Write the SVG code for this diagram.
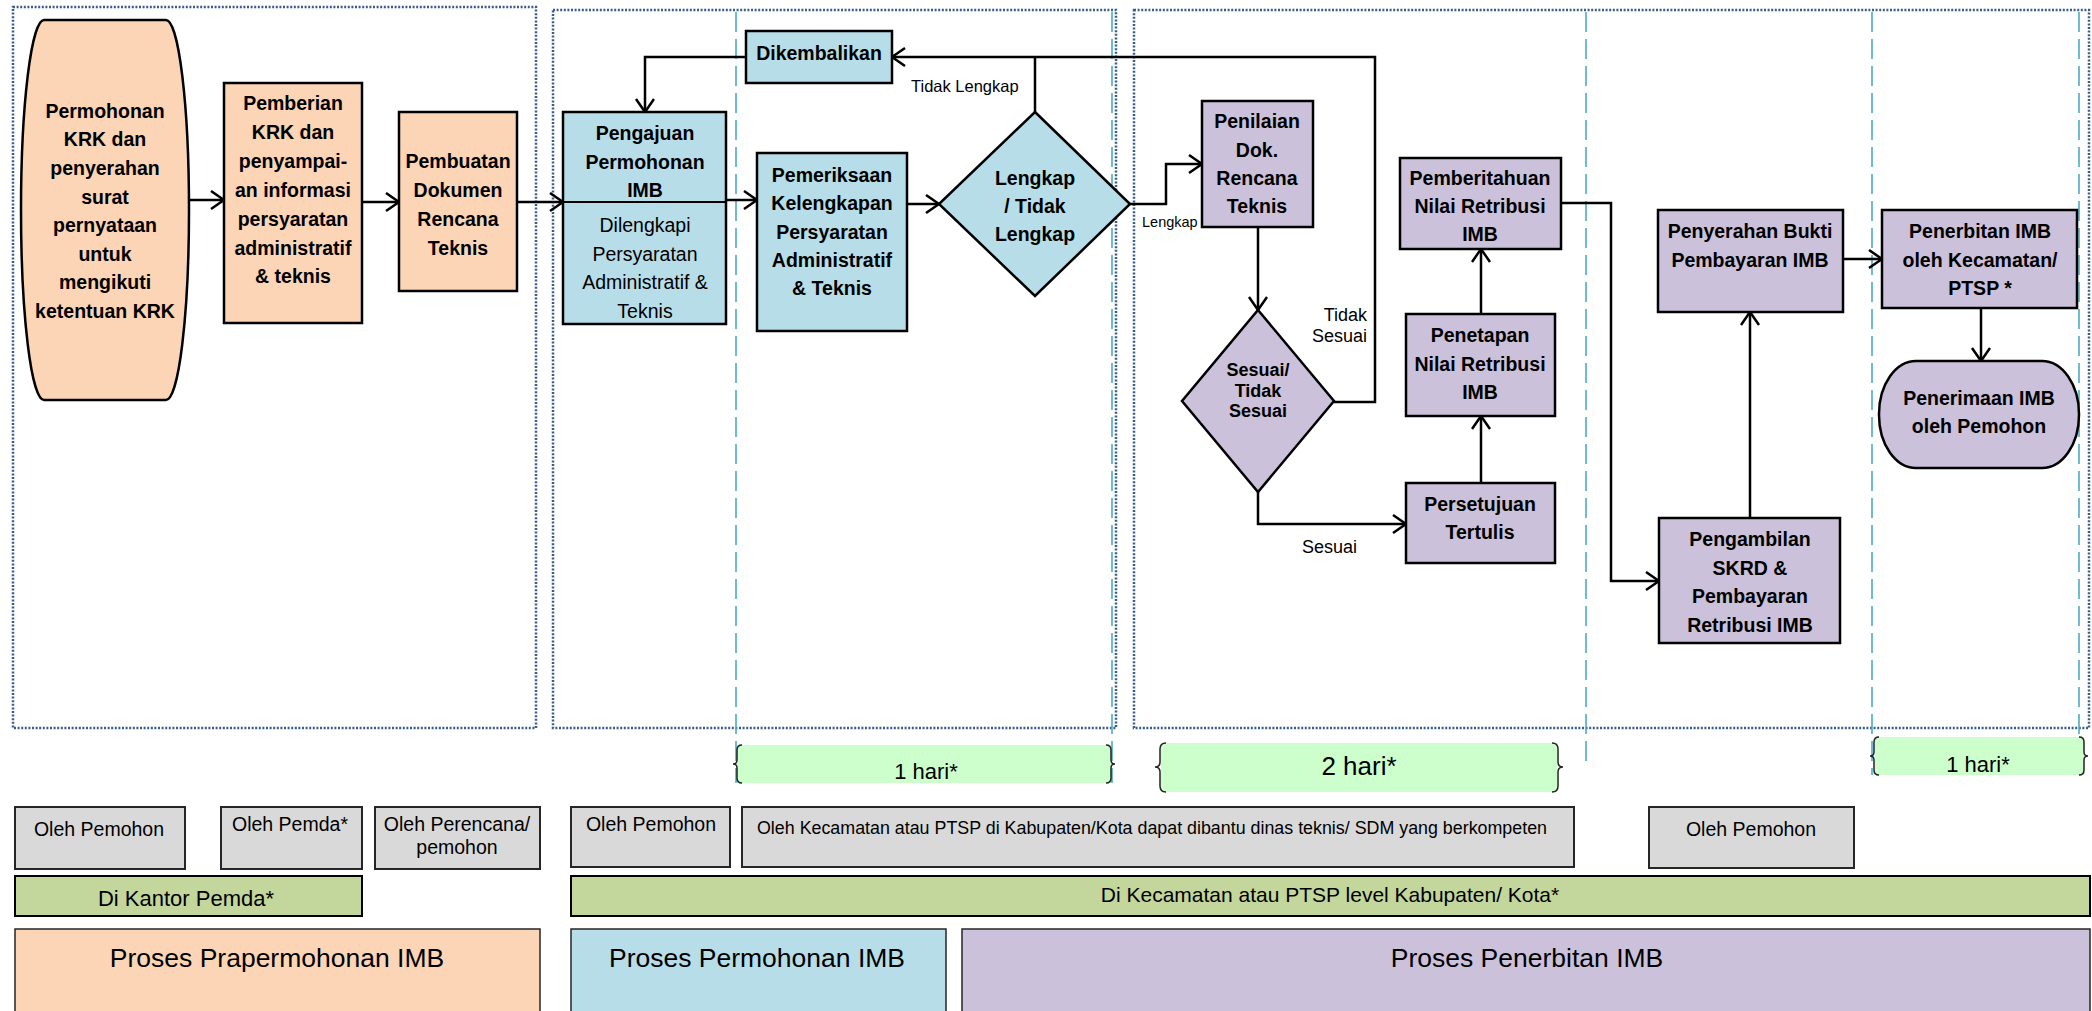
<svg xmlns="http://www.w3.org/2000/svg" width="2092" height="1011" viewBox="0 0 2092 1011">
<style>
text{font-family:"Liberation Sans",Arial,sans-serif;fill:#000}
.b{font-weight:bold;font-size:19.5px;text-anchor:middle}
.r{font-size:19.5px;text-anchor:middle}
.lbl{font-size:16.5px}
.peach{fill:#FBD5B5;stroke:#000;stroke-width:2.5}
.blue{fill:#B7DDE8;stroke:#000;stroke-width:2.5}
.lav{fill:#CCC1DA;stroke:#000;stroke-width:2.5}
.gray{fill:#D9D9D9;stroke:#262626;stroke-width:2}
.bar{fill:#C3D69B;stroke:#000;stroke-width:2}
.big{stroke:#262626;stroke-width:1.5}
.dot{fill:none;stroke:#385D8A;stroke-width:2.5;stroke-dasharray:2 1.6}
.dash{fill:none;stroke:#4BACC6;stroke-width:1.6;stroke-dasharray:20 7}
.hari{fill:#CCFFCC}
.brace{fill:none;stroke:#222;stroke-width:1.5}
.c{fill:none;stroke:#000;stroke-width:2.5}
.a{marker-end:url(#ar)}
</style>
<defs>
<marker id="ar" markerUnits="userSpaceOnUse" markerWidth="18" markerHeight="22" refX="14" refY="10" orient="auto">
<path d="M1,1 L14,10 L1,19" fill="none" stroke="#000" stroke-width="2.5"/>
</marker>
</defs>

<g id="frames">
<rect class="dot" x="13" y="7" width="523" height="721"/>
<rect class="dot" x="553" y="10" width="563" height="718"/>
<rect class="dot" x="1134" y="10" width="955" height="718"/>
<line class="dash" x1="736" y1="12" x2="736" y2="783"/>
<line class="dash" x1="1112" y1="12" x2="1112" y2="783"/>
<line class="dash" x1="1586" y1="12" x2="1586" y2="765"/>
<line class="dash" x1="1872" y1="12" x2="1872" y2="775"/>
<line class="dash" x1="2079" y1="12" x2="2079" y2="775"/>
</g>

<g id="durations">
<rect class="hari" x="737" y="745" width="374" height="38"/>
<path class="brace" d="M742,745 Q737,745 737,750 V760 Q737,764 733,764 Q737,764 737,768 V778 Q737,783 742,783"/>
<path class="brace" d="M1106,745 Q1111,745 1111,750 V760 Q1111,764 1115,764 Q1111,764 1111,768 V778 Q1111,783 1106,783"/>
<text x="926" y="779" style="font-size:22px;text-anchor:middle">1 hari*</text>
<rect class="hari" x="1161" y="743" width="396" height="49"/>
<path class="brace" d="M1166,743 Q1160,743 1160,749 V762 Q1160,767 1155,767 Q1160,767 1160,772 V786 Q1160,792 1166,792"/>
<path class="brace" d="M1552,743 Q1558,743 1558,749 V762 Q1558,767 1563,767 Q1558,767 1558,772 V786 Q1558,792 1552,792"/>
<text x="1359" y="775" style="font-size:26px;text-anchor:middle">2 hari*</text>
<rect class="hari" x="1875" y="737" width="209" height="38"/>
<path class="brace" d="M1879,737 Q1874,737 1874,742 V752 Q1874,756 1870,756 Q1874,756 1874,760 V770 Q1874,775 1879,775"/>
<path class="brace" d="M2079,737 Q2084,737 2084,742 V752 Q2084,756 2088,756 Q2084,756 2084,760 V770 Q2084,775 2079,775"/>
<text x="1978" y="772" style="font-size:22px;text-anchor:middle">1 hari*</text>
</g>

<g id="connectors">
<line class="c a" x1="189" y1="200" x2="224" y2="200"/>
<line class="c a" x1="362" y1="202" x2="399" y2="202"/>
<line class="c a" x1="517" y1="202" x2="563" y2="202"/>
<line class="c a" x1="726" y1="200" x2="757" y2="200"/>
<line class="c a" x1="907" y1="204" x2="939" y2="204"/>
<line class="c" x1="1035" y1="112" x2="1035" y2="57"/>
<path class="c a" d="M1334,402 H1375 V57 H892"/>
<path class="c a" d="M746,57 H645 V112"/>
<path class="c a" d="M1130,204 H1166 V164 H1202"/>
<line class="c a" x1="1258" y1="227" x2="1258" y2="310"/>
<path class="c a" d="M1258,492 V524 H1406"/>
<line class="c a" x1="1481" y1="483" x2="1481" y2="416"/>
<line class="c a" x1="1481" y1="314" x2="1481" y2="249"/>
<path class="c a" d="M1561,203 H1611 V581 H1659"/>
<line class="c a" x1="1750" y1="518" x2="1750" y2="312"/>
<line class="c a" x1="1843" y1="259" x2="1882" y2="259"/>
<line class="c a" x1="1981" y1="308" x2="1981" y2="361"/>
<text class="lbl" x="911" y="92">Tidak Lengkap</text>
<text x="1142" y="227" style="font-size:14.5px">Lengkap</text>
<text x="1367" y="321" style="font-size:18px;text-anchor:end">Tidak</text>
<text x="1367" y="342" style="font-size:18px;text-anchor:end">Sesuai</text>
<text x="1302" y="553" style="font-size:18px">Sesuai</text>
</g>

<g id="n-permohonan-krk">
<rect class="peach" x="21" y="20" width="168" height="380" rx="23" ry="190"/>
<text class="b" x="105" y="117.7">Permohonan</text>
<text class="b" x="105" y="146.3">KRK dan</text>
<text class="b" x="105" y="175">penyerahan</text>
<text class="b" x="105" y="203.6">surat</text>
<text class="b" x="105" y="232.2">pernyataan</text>
<text class="b" x="105" y="260.8">untuk</text>
<text class="b" x="105" y="289.4">mengikuti</text>
<text class="b" x="105" y="318">ketentuan KRK</text>
</g>

<g id="n-pemberian-krk">
<rect class="peach" x="224" y="83" width="138" height="240"/>
<text class="b" x="293" y="110">Pemberian</text>
<text class="b" x="293" y="139">KRK dan</text>
<text class="b" x="293" y="168">penyampai-</text>
<text class="b" x="293" y="197">an informasi</text>
<text class="b" x="293" y="226">persyaratan</text>
<text class="b" x="293" y="255">administratif</text>
<text class="b" x="293" y="283">&amp; teknis</text>
</g>

<g id="n-pembuatan">
<rect class="peach" x="399" y="112" width="118" height="179"/>
<text class="b" x="458" y="168">Pembuatan</text>
<text class="b" x="458" y="197">Dokumen</text>
<text class="b" x="458" y="226">Rencana</text>
<text class="b" x="458" y="254.5">Teknis</text>
</g>

<g id="n-pengajuan">
<rect class="blue" x="563" y="112" width="163" height="212"/>
<line x1="563" y1="202" x2="726" y2="202" stroke="#000" stroke-width="2"/>
<text class="b" x="645" y="140">Pengajuan</text>
<text class="b" x="645" y="169">Permohonan</text>
<text class="b" x="645" y="197">IMB</text>
<text class="r" x="645" y="232">Dilengkapi</text>
<text class="r" x="645" y="261">Persyaratan</text>
<text class="r" x="645" y="289">Administratif &amp;</text>
<text class="r" x="645" y="318">Teknis</text>
</g>

<g id="n-dikembalikan">
<rect class="blue" x="746" y="31" width="146" height="52"/>
<text class="b" x="819" y="60">Dikembalikan</text>
</g>

<g id="n-pemeriksaan">
<rect class="blue" x="757" y="153" width="150" height="178"/>
<text class="b" x="832" y="182">Pemeriksaan</text>
<text class="b" x="832" y="210">Kelengkapan</text>
<text class="b" x="832" y="239">Persyaratan</text>
<text class="b" x="832" y="267">Administratif</text>
<text class="b" x="832" y="295">&amp; Teknis</text>
</g>

<g id="n-lengkap">
<polygon class="blue" points="1035,112 1130,204 1035,296 939,204"/>
<text class="b" x="1035" y="185">Lengkap</text>
<text class="b" x="1035" y="213">/ Tidak</text>
<text class="b" x="1035" y="241">Lengkap</text>
</g>

<g id="n-penilaian">
<rect class="lav" x="1202" y="101" width="111" height="126"/>
<text class="b" x="1257" y="128">Penilaian</text>
<text class="b" x="1257" y="157">Dok.</text>
<text class="b" x="1257" y="185">Rencana</text>
<text class="b" x="1257" y="213">Teknis</text>
</g>

<g id="n-sesuai">
<polygon class="lav" points="1258,310 1334,401 1258,492 1182,401"/>
<text class="b" x="1258" y="376" style="font-size:18px">Sesuai/</text>
<text class="b" x="1258" y="397" style="font-size:18px">Tidak</text>
<text class="b" x="1258" y="417" style="font-size:18px">Sesuai</text>
</g>

<g id="n-pemberitahuan">
<rect class="lav" x="1400" y="158" width="161" height="91"/>
<text class="b" x="1480" y="185">Pemberitahuan</text>
<text class="b" x="1480" y="213">Nilai Retribusi</text>
<text class="b" x="1480" y="241">IMB</text>
</g>

<g id="n-penetapan">
<rect class="lav" x="1406" y="314" width="149" height="102"/>
<text class="b" x="1480" y="342">Penetapan</text>
<text class="b" x="1480" y="371">Nilai Retribusi</text>
<text class="b" x="1480" y="399">IMB</text>
</g>

<g id="n-persetujuan">
<rect class="lav" x="1406" y="483" width="149" height="80"/>
<text class="b" x="1480" y="511">Persetujuan</text>
<text class="b" x="1480" y="539">Tertulis</text>
</g>

<g id="n-pengambilan">
<rect class="lav" x="1659" y="518" width="181" height="125"/>
<text class="b" x="1750" y="546">Pengambilan</text>
<text class="b" x="1750" y="575">SKRD &amp;</text>
<text class="b" x="1750" y="603">Pembayaran</text>
<text class="b" x="1750" y="632">Retribusi IMB</text>
</g>

<g id="n-penyerahan">
<rect class="lav" x="1658" y="210" width="185" height="102"/>
<text class="b" x="1750" y="238">Penyerahan Bukti</text>
<text class="b" x="1750" y="267">Pembayaran IMB</text>
</g>

<g id="n-penerbitan">
<rect class="lav" x="1882" y="210" width="195" height="98"/>
<text class="b" x="1980" y="238">Penerbitan IMB</text>
<text class="b" x="1980" y="267">oleh Kecamatan/</text>
<text class="b" x="1980" y="295">PTSP *</text>
</g>

<g id="n-penerimaan">
<rect class="lav" x="1879" y="361" width="200" height="107" rx="37" ry="53"/>
<text class="b" x="1979" y="405">Penerimaan IMB</text>
<text class="b" x="1979" y="433">oleh Pemohon</text>
</g>

<g id="actors">
<rect class="gray" x="15" y="807" width="170" height="62"/>
<text class="r" x="99" y="836">Oleh Pemohon</text>
<rect class="gray" x="221" y="807" width="141" height="62"/>
<text class="r" x="290" y="831">Oleh Pemda*</text>
<rect class="gray" x="375" y="807" width="165" height="62"/>
<text class="r" x="457" y="831">Oleh Perencana/</text>
<text class="r" x="457" y="854">pemohon</text>
<rect class="gray" x="571" y="807" width="159" height="60"/>
<text class="r" x="651" y="831">Oleh Pemohon</text>
<rect class="gray" x="742" y="807" width="832" height="60"/>
<text x="1152" y="834" style="font-size:17.5px;text-anchor:middle" textLength="790" lengthAdjust="spacingAndGlyphs">Oleh Kecamatan atau PTSP di Kabupaten/Kota dapat dibantu dinas teknis/ SDM yang berkompeten</text>
<rect class="gray" x="1649" y="807" width="205" height="61"/>
<text class="r" x="1751" y="836">Oleh Pemohon</text>
</g>

<g id="locations">
<rect class="bar" x="15" y="876" width="347" height="40"/>
<text x="186" y="906" style="font-size:22px;text-anchor:middle">Di Kantor Pemda*</text>
<rect class="bar" x="571" y="876" width="1519" height="40"/>
<text x="1330" y="902" style="font-size:21px;text-anchor:middle">Di Kecamatan atau PTSP level Kabupaten/ Kota*</text>
</g>

<g id="phases">
<rect class="peach big" x="15" y="929" width="525" height="90"/>
<text x="277" y="967" style="font-size:26.5px;text-anchor:middle">Proses Prapermohonan IMB</text>
<rect class="blue big" x="571" y="929" width="375" height="90"/>
<text x="757" y="967" style="font-size:26.5px;text-anchor:middle">Proses Permohonan IMB</text>
<rect class="lav big" x="962" y="929" width="1128" height="90"/>
<text x="1527" y="967" style="font-size:26.5px;text-anchor:middle">Proses Penerbitan IMB</text>
</g>
</svg>
